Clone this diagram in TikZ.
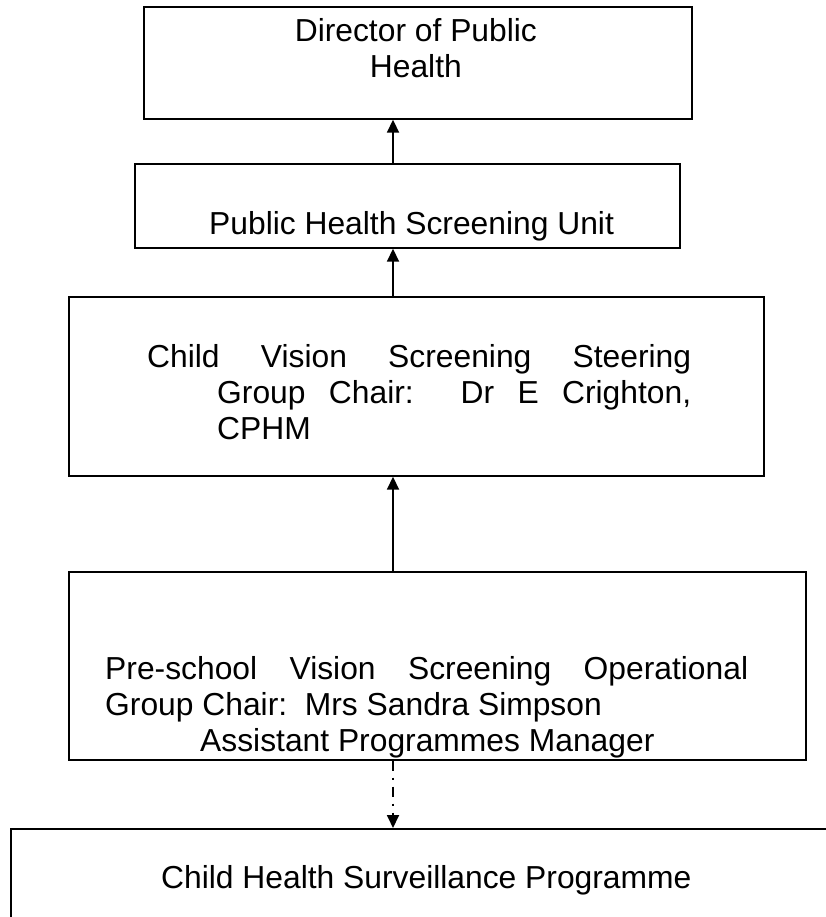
\documentclass[tikz,border=0pt]{standalone}
\usepackage{fontspec}
\setmainfont{Liberation Sans}
\usetikzlibrary{arrows.meta,positioning}

\begin{document}
\begin{tikzpicture}[
  x=1pt, y=-1pt,
  font=\fontsize{31.8}{36}\selectfont,
  box/.style={draw, line width=1.7pt, anchor=north west, inner sep=0pt},
  txt/.style={inner sep=0pt, anchor=north west, align=left},
  arr/.style={-{Triangle[length=13pt,width=12pt]}, line width=1.8pt},
  dotarr/.style={arr, dash pattern=on 10pt off 7pt on 2pt off 7pt}
]
\useasboundingbox (0,0) rectangle (826,917);
\node[box, minimum width=548pt, minimum height=112pt] (dph) at (143,6) {};
\node[box, minimum width=545pt, minimum height=84pt] (psu) at (134,163) {};
\node[box, minimum width=695pt, minimum height=179pt] (cvs) at (68,296) {};
\node[box, minimum width=737pt, minimum height=188pt] (pvs) at (68,571) {};
\node[box, minimum width=830pt, minimum height=100pt] (chs) at (10,828) {};
\node[txt, anchor=north, align=center] (dphtxt) at ([shift={(-2,12)}]dph.north) {Director of Public\\Health};
\node[txt] (psutxt) at ([shift={(75,48)}]psu.north west) {Public Health Screening Unit};
\node[txt] (cvstxt) at ([shift={(79,48)}]cvs.north west)
  {\makebox[544pt][s]{Child Vision Screening Steering}\\
   \hspace*{70pt}\makebox[474pt][s]{Group Chair:\ \ Dr E Crighton,}\\
   \hspace*{70pt}CPHM};
\node[txt] (pvstxt) at ([shift={(37,85)}]pvs.north west)
  {\makebox[643pt][s]{Pre-school Vision Screening Operational}\\
   Group Chair:\ \ Mrs Sandra Simpson\\
   \hspace*{95pt}Assistant Programmes Manager};
\node[txt] (chstxt) at ([shift={(151,37)}]chs.north west) {Child Health Surveillance Programme};
\coordinate (ax) at (393,0);
\draw[arr] (psu.north -| ax) -- (dph.south -| ax);
\draw[arr] (cvs.north -| ax) -- (psu.south -| ax);
\draw[arr] (pvs.north -| ax) -- (cvs.south -| ax);
\draw[dotarr] (pvs.south -| ax) -- (chs.north -| ax);
\end{tikzpicture}
\end{document}
